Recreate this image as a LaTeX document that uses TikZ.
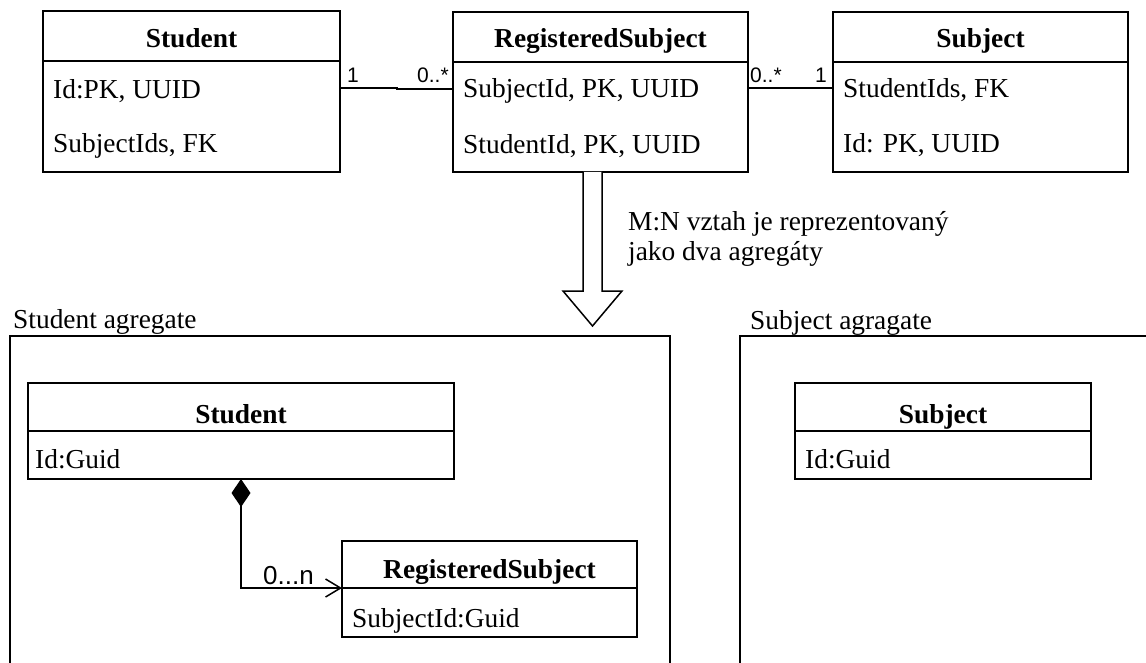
\documentclass[tikz,border=0pt]{standalone}
\usepackage{fontspec}
\setmainfont{Liberation Serif}
\newfontfamily\labelsans{Liberation Sans}
\usetikzlibrary{arrows.meta}
\begin{document}
\begin{tikzpicture}[x=1pt,y=-1pt,
  box/.style={draw, line width=1.5pt, inner sep=0pt, outer sep=0pt, anchor=north west},
  sep/.style={line width=1.5pt},
  title/.style={font=\fontsize{27.4}{30}\selectfont\bfseries, inner sep=0pt, anchor=base},
  attr/.style={font=\fontsize{27.4}{30}\selectfont, inner sep=0pt, anchor=base west},
  mult/.style={font=\labelsans\fontsize{21}{24}\selectfont, inner sep=0pt, anchor=base west},
  conn/.style={line width=1.5pt},
  frame/.style={line width=1.5pt},
  caption/.style={font=\fontsize{27.4}{30}\selectfont, inner sep=0pt, anchor=base west},
]
\useasboundingbox (0,0) rectangle (1146,663);
\fill[white] (0,0) rectangle (1146,663);

% ---- relational model ----
\node[box, minimum width=297pt, minimum height=161pt] (stu) at (43,11) {};
\draw[sep] ([yshift=-50pt]stu.north west) -- ([yshift=-50pt]stu.north east);
\node[title] (stuT) at (191.5,48) {Student};
\node[attr] (stuA1) at (53,99) {Id:PK, UUID};
\node[attr] (stuA2) at (53,153) {SubjectIds, FK};

\node[box, minimum width=295pt, minimum height=160pt] (reg) at (453,12) {};
\draw[sep] ([yshift=-50pt]reg.north west) -- ([yshift=-50pt]reg.north east);
\node[title] (regT) at (600.5,48) {RegisteredSubject};
\node[attr] (regA1) at (463,98) {SubjectId, PK, UUID};
\node[attr] (regA2) at (463,154) {StudentId, PK, UUID};

\node[box, minimum width=295pt, minimum height=160pt] (sub) at (833,12) {};
\draw[sep] ([yshift=-50pt]sub.north west) -- ([yshift=-50pt]sub.north east);
\node[title] (subT) at (980.5,48) {Subject};
\node[attr] (subA1) at (843,98) {StudentIds, FK};
\node[attr] (subA2) at (843,153) {Id: PK, UUID};

% associations
\coordinate (row88) at (0,88);
\coordinate (row89) at (0,89);
\draw[conn] (stu.east |- row88) -- ++(57,0) -- ++(0,1) -- (reg.west |- row89);
\draw[conn] (reg.east |- row88) -- (sub.west |- row88);
\node[mult] (m1) at (347,83) {1};
\node[mult] (m2) at (417,83) {0..*};
\node[mult] (m3) at (750,83) {0..*};
\node[mult] (m4) at (815,83) {1};

% transformation arrow
\coordinate (arrTop) at (592.5,172);
\draw[frame, fill=white, line join=miter]
  ([xshift=-9.5pt]arrTop) -- ++(0,119) -- ++(-20,0) -- ++(29.5,35)
  -- ++(29.5,-35) -- ++(-20,0) -- ([xshift=9.5pt]arrTop);
\node[caption] (cap1) at (628,231) {M:N vztah je reprezentovaný};
\node[caption] (cap2) at (628,260) {jako dva agregáty};

% ---- aggregates ----
\draw[frame] (10,668) -- (10,336) -- (670,336) -- (670,668);
\node[caption] (aggStu) at (13,328) {Student agregate};
\draw[frame] (740,668) -- (740,336) -- (1150,336);
\node[caption] (aggSub) at (750,329) {Subject agragate};

\node[box, minimum width=426pt, minimum height=96pt] (stuI) at (28,383) {};
\draw[sep] ([yshift=-48pt]stuI.north west) -- ([yshift=-48pt]stuI.north east);
\node[title] (stuIT) at (241,423) {Student};
\node[attr] (stuIA) at (35,468) {Id:Guid};

\node[box, minimum width=295pt, minimum height=96pt] (regI) at (342,541) {};
\coordinate (regIsep) at ([yshift=-47pt]regI.north west);
\draw[sep] (regIsep) -- ([yshift=-47pt]regI.north east);
\node[title] (regIT) at (489.5,578) {RegisteredSubject};
\node[attr] (regIA) at (352,627) {SubjectId:Guid};

\node[box, minimum width=296pt, minimum height=96pt] (subI) at (795,383) {};
\draw[sep] ([yshift=-48pt]subI.north west) -- ([yshift=-48pt]subI.north east);
\node[title] (subIT) at (943,423) {Subject};
\node[attr] (subIA) at (805,468) {Id:Guid};

% composition
\draw[conn, {Diamond[length=28pt,width=19pt]}-{Straight Barb[length=15pt,width=18pt]}]
  (stuI.south) |- (regIsep);
\node[mult, font=\labelsans\fontsize{26}{28}\selectfont] (m5) at (263,584) {0...n};
\end{tikzpicture}
\end{document}
